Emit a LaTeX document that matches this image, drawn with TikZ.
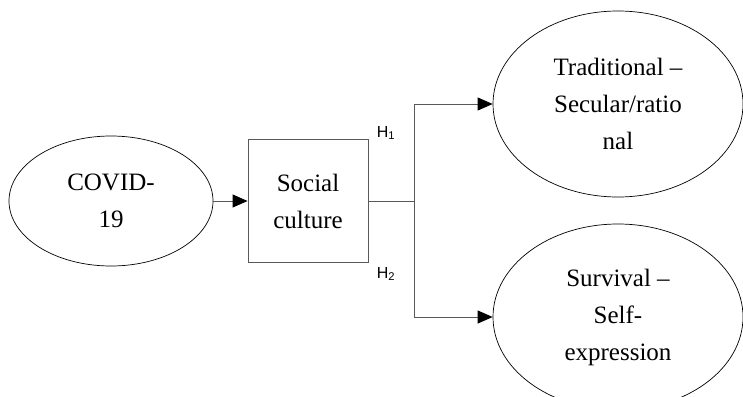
\documentclass[tikz,border=0pt]{standalone}
\usepackage{fontspec}
\setmainfont{Liberation Serif}
\newfontfamily\hfont{Liberation Sans}
\usepackage{tikz}
\usetikzlibrary{arrows.meta, positioning, shapes.geometric}

\begin{document}
\begin{tikzpicture}[x=1pt, y=-1pt,
  oval/.style={draw=black, line width=0.7pt, ellipse, inner sep=0pt, align=center,
    font=\fontsize{25}{37}\selectfont},
  boxed/.style={draw=black!65, line width=0.9pt, rectangle, inner sep=0pt, align=center,
    minimum width=120pt, minimum height=123pt, font=\fontsize{25}{37}\selectfont},
  link/.style={draw=black!65, line width=0.9pt},
  tip/.style={-{Triangle[length=15pt, width=13pt, color=black]}},
  hyp/.style={font=\hfont\fontsize{16}{18}\selectfont, inner sep=0pt}]
\useasboundingbox (0,0) rectangle (743,396);
\clip (0,0) rectangle (743,396);
% nodes
\node[oval, minimum width=204pt, minimum height=130pt] (covid) at (111, 201) {COVID-\\19};
\node[boxed] (culture) at (308, 201) {Social\\culture};
\node[oval, minimum width=250pt, minimum height=186pt] (trad) at (618, 104) {Traditional --\\Secular/ratio\\nal};
\node[oval, minimum width=250pt, minimum height=186pt] (surv) at (618, 317) {Survival --\\Self-\\expression};
\coordinate (split) at ([xshift=46pt]culture.east);
% connectors
\draw[link, tip] (covid) -- (culture);
\draw[link] (culture.east) -- (split);
\draw[link, tip] (split) |- (trad.west);
\draw[link, tip] (split) |- (surv.west);
\node[hyp] (h1) at (386, 133) {H\textsubscript{1}};
\node[hyp] (h2) at (386, 274) {H\textsubscript{2}};
\end{tikzpicture}
\end{document}
